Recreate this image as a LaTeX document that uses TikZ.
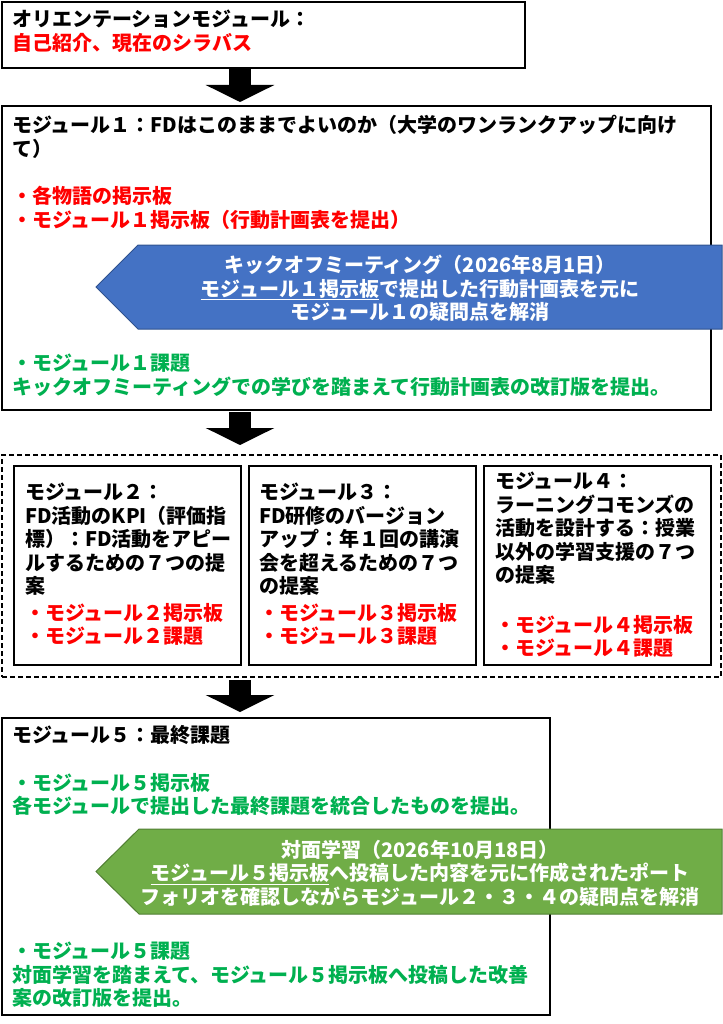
\documentclass[tikz,border=0pt]{standalone}
\usepackage{fontspec}
\setmainfont{Noto Sans CJK JP}
\usetikzlibrary{arrows.meta}
\definecolor{modred}{HTML}{FF0000}
\definecolor{modgreen}{HTML}{00B050}
\definecolor{kickblue}{HTML}{4472C4}
\definecolor{kickblueline}{HTML}{2F528F}
\definecolor{meetgreen}{HTML}{70AD47}
\definecolor{meetgreenline}{HTML}{507E32}
\tikzset{
	modbox/.style={draw, line width=1.3pt, inner sep=0pt, outer sep=0pt, anchor=north west},
	modtext/.style={anchor=north west, inner sep=0pt, align=left, font=\fontsize{20}{23.5}\selectfont\bfseries},
	bigdown/.style={line width=22pt, -{Triangle[width=68pt,length=17pt]}},
}
\begin{document}
\begin{tikzpicture}[x=1pt,y=-1pt]
			\useasboundingbox (0,0) rectangle (722,1024);
			% orientation
			\node	(orient) at (2,2) [modbox, minimum width=523pt, minimum height=66pt] {};
			\node	(orienttxt) at (12,10) [modtext] {オリエンテーションモジュール：\\\textcolor{modred}{自己紹介、現在のシラバス}};
			% module 1
			\node	(mod1) at (2,106) [modbox, minimum width=709pt, minimum height=304pt] {};
			\node	(mod1title) at (12,115) [modtext] {モジュール１：FDはこのままでよいのか（大学のワンランクアップに向け\\て）};
			\node	(mod1board) at (12,186) [modtext, text=modred] {・各物語の掲示板\\・モジュール１掲示板（行動計画表を提出）};
			\filldraw[fill=kickblue, draw=kickblueline, line width=1pt] (138,245) -- (722,245) -- (722,329) -- (138,329) -- (96,287) -- cycle;
			\node	(kickoff) at (420,255) [modtext, anchor=north, align=center, text=white] {キックオフミーティング（2026年8月1日）\\\underline{モジュール１掲示板}で提出した行動計画表を元に\\モジュール１の疑問点を解消};
			\node	(mod1task) at (12,354) [modtext, text=modgreen] {・モジュール１課題\\キックオフミーティングでの学びを踏まえて行動計画表の改訂版を提出。};
			% modules 2-4
			\node	(group) at (2,455) [modbox, line width=1.2pt, dash pattern=on 5pt off 3pt, minimum width=719pt, minimum height=222pt] {};
			\node	(mod2) at (14,466) [modbox, minimum width=227pt, minimum height=199pt] {};
			\node	(mod3) at (249,466) [modbox, minimum width=227pt, minimum height=199pt] {};
			\node	(mod4) at (484,466) [modbox, minimum width=227pt, minimum height=199pt] {};
			\node	(mod2txt) at (25,483) [modtext] {モジュール２：\\FD活動のKPI（評価指\\標）：FD活動をアピー\\ルするための７つの提\\案};
			\node	(mod2red) at (25,603) [modtext, text=modred] {・モジュール２掲示板\\・モジュール２課題};
			\node	(mod3txt) at (259,483) [modtext] {モジュール３：\\FD研修のバージョン\\アップ：年１回の講演\\会を超えるための７つ\\の提案};
			\node	(mod3red) at (259,603) [modtext, text=modred] {・モジュール３掲示板\\・モジュール３課題};
			\node	(mod4txt) at (495,472) [modtext] {モジュール４：\\ラーニングコモンズの\\活動を設計する：授業\\以外の学習支援の７つ\\の提案};
			\node	(mod4red) at (495,615) [modtext, text=modred] {・モジュール４掲示板\\・モジュール４課題};
			% module 5
			\node	(mod5) at (2,718) [modbox, minimum width=548pt, minimum height=297pt] {};
			\node	(mod5title) at (12,725) [modtext] {モジュール５：最終課題};
			\node	(mod5board) at (12,773) [modtext, text=modgreen] {・モジュール５掲示板\\各モジュールで提出した最終課題を統合したものを提出。};
			\filldraw[fill=meetgreen, draw=meetgreenline, line width=1pt] (139,829) -- (722,829) -- (722,914) -- (139,914) -- (96,871.5) -- cycle;
			\node	(meeting) at (420,840) [modtext, anchor=north, align=center, text=white] {対面学習（2026年10月18日）\\\underline{モジュール５掲示板}へ投稿した内容を元に作成されたポート\\フォリオを確認しながらモジュール２・３・４の疑問点を解消};
			\node	(mod5task) at (12,942) [modtext, text=modgreen] {・モジュール５課題\\対面学習を踏まえて、モジュール５掲示板へ投稿した改善\\案の改訂版を提出。};
			% block arrows
			\draw[bigdown] ([xshift=238pt,yshift=-1pt]orient.south west) -- ([xshift=238pt,yshift=4pt]mod1.north west);
			\draw[bigdown] ([xshift=238pt,yshift=-2pt]mod1.south west) -- ([xshift=238pt,yshift=10pt]group.north west);
			\draw[bigdown] ([xshift=238pt,yshift=-3pt]group.south west) -- ([xshift=238pt,yshift=6pt]mod5.north west);
		\end{tikzpicture}
\end{document}
